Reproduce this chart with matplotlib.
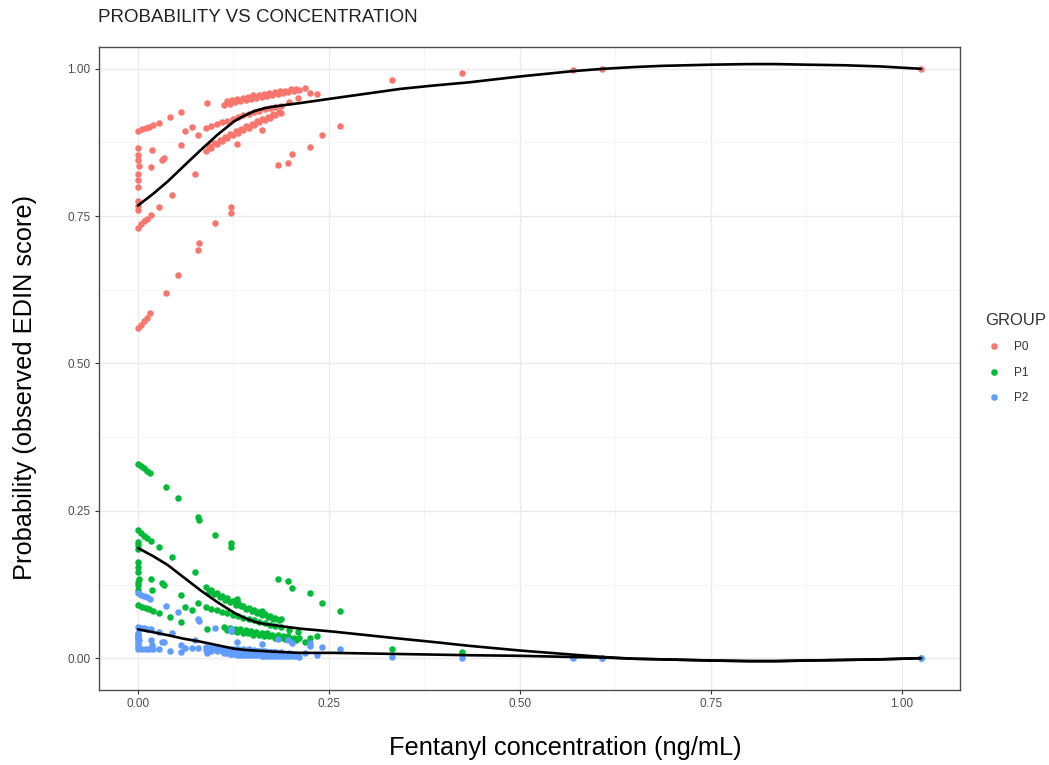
import matplotlib
matplotlib.use("Agg")
import matplotlib.pyplot as plt
from matplotlib.lines import Line2D
import numpy as np
import pandas as pd

plt.rcParams['font.family'] = ['Liberation Sans', 'DejaVu Sans']

# observations: fentanyl concentration and predicted probability of each EDIN group
conc = [
    # subject with lowest P0
    0.000, 0.004, 0.008, 0.012, 0.016, 0.037, 0.053, 0.078, 0.080, 0.101, 0.122, 0.122,
    # second subject
    0.000, 0.004, 0.008, 0.012, 0.017, 0.028, 0.044, 0.075,
    # column at zero
    0.000, 0.000, 0.000, 0.000, 0.000, 0.000, 0.000, 0.000, 0.000, 0.002,
    # upper short diagonal
    0.000, 0.005, 0.010, 0.015, 0.020, 0.027,
    # scattered
    0.018, 0.017, 0.031, 0.034, 0.056, 0.061, 0.071, 0.079, 0.042, 0.056, 0.090, 0.129, 0.162,
    # right scatter
    0.183, 0.196, 0.202, 0.225, 0.241, 0.265,
    0.218, 0.225, 0.235,
    # far points
    0.333, 0.424, 0.569, 0.608, 1.025,
    # band C
    0.089, 0.096, 0.103, 0.110, 0.117, 0.124, 0.131, 0.138, 0.145, 0.152, 0.159, 0.166, 0.173, 0.180, 0.187,
    # band B
    0.089, 0.096, 0.103, 0.110, 0.117, 0.124, 0.131, 0.138, 0.145, 0.152, 0.159, 0.166, 0.173, 0.180, 0.187, 0.198, 0.209,
    # band U
    0.113, 0.120, 0.127, 0.134, 0.141, 0.148, 0.155, 0.162, 0.169, 0.176, 0.183, 0.190, 0.197, 0.204, 0.211,
    # band C second row
    0.093, 0.100, 0.107, 0.114, 0.121, 0.128, 0.135, 0.142, 0.149, 0.156, 0.163, 0.170, 0.177, 0.184,
    # band U second row
    0.116, 0.123, 0.130, 0.137, 0.144, 0.151, 0.158, 0.165, 0.172, 0.179, 0.186, 0.193, 0.200, 0.207,
]

p0 = [
    0.560, 0.566, 0.572, 0.578, 0.585, 0.620, 0.650, 0.693, 0.705, 0.739, 0.756, 0.766,
    0.730, 0.736, 0.741, 0.746, 0.752, 0.766, 0.786, 0.822,
    0.760, 0.768, 0.776, 0.800, 0.812, 0.822, 0.845, 0.854, 0.866, 0.835,
    0.895, 0.898, 0.900, 0.902, 0.905, 0.908,
    0.862, 0.834, 0.846, 0.849, 0.870, 0.895, 0.902, 0.888, 0.918, 0.927, 0.942, 0.873, 0.896,
    0.837, 0.841, 0.856, 0.868, 0.887, 0.903,
    0.968, 0.959, 0.958,
    0.981, 0.993, 0.998, 0.999, 1.000,
    0.860, 0.866, 0.872, 0.877, 0.882, 0.887, 0.891, 0.896, 0.900, 0.905, 0.909, 0.913, 0.917, 0.921, 0.925,
    0.899, 0.903, 0.906, 0.909, 0.912, 0.915, 0.918, 0.921, 0.924, 0.926, 0.929, 0.931, 0.933, 0.935, 0.937, 0.944, 0.950,
    0.939, 0.941, 0.943, 0.945, 0.947, 0.949, 0.951, 0.953, 0.954, 0.956, 0.957, 0.959, 0.960, 0.962, 0.964,
    0.869, 0.874, 0.880, 0.885, 0.889, 0.894, 0.898, 0.903, 0.907, 0.911, 0.915, 0.919, 0.923, 0.927,
    0.945, 0.947, 0.949, 0.951, 0.953, 0.955, 0.956, 0.958, 0.959, 0.961, 0.962, 0.963, 0.965, 0.966,
]

p1 = [
    0.330, 0.326, 0.322, 0.318, 0.314, 0.291, 0.271, 0.240, 0.234, 0.209, 0.195, 0.188,
    0.217, 0.212, 0.208, 0.204, 0.199, 0.189, 0.172, 0.147,
    0.197, 0.192, 0.186, 0.164, 0.155, 0.147, 0.130, 0.124, 0.115, 0.135,
    0.090, 0.087, 0.085, 0.083, 0.080, 0.077,
    0.115, 0.135, 0.127, 0.124, 0.107, 0.087, 0.081, 0.094, 0.070, 0.062, 0.049, 0.100, 0.080,
    0.135, 0.131, 0.119, 0.110, 0.094, 0.080,
    0.028, 0.035, 0.037,
    0.016, 0.010, 0.002, 0.001, 0.000,
    0.121, 0.116, 0.111, 0.106, 0.102, 0.097, 0.093, 0.089, 0.085, 0.081, 0.078, 0.075, 0.072, 0.069, 0.066,
    0.087, 0.084, 0.081, 0.079, 0.076, 0.073, 0.071, 0.068, 0.066, 0.064, 0.061, 0.059, 0.057, 0.055, 0.053, 0.048, 0.044,
    0.053, 0.052, 0.050, 0.049, 0.047, 0.046, 0.044, 0.043, 0.042, 0.040, 0.039, 0.038, 0.037, 0.035, 0.034,
    0.113, 0.109, 0.104, 0.099, 0.096, 0.091, 0.088, 0.083, 0.080, 0.076, 0.073, 0.070, 0.067, 0.064,
    0.047, 0.046, 0.045, 0.043, 0.042, 0.040, 0.039, 0.038, 0.037, 0.035, 0.034, 0.033, 0.032, 0.031,
]

p2 = [
    0.110, 0.108, 0.106, 0.104, 0.101, 0.089, 0.079, 0.067, 0.063, 0.052, 0.049, 0.046,
    0.053, 0.052, 0.051, 0.050, 0.049, 0.045, 0.042, 0.031,
    0.043, 0.040, 0.038, 0.036, 0.033, 0.031, 0.025, 0.022, 0.019, 0.030,
    0.015, 0.015, 0.015, 0.015, 0.015, 0.015,
    0.023, 0.031, 0.027, 0.027, 0.023, 0.018, 0.017, 0.018, 0.012, 0.011, 0.009, 0.027, 0.024,
    0.032, 0.031, 0.026, 0.020, 0.019, 0.016,
    0.008, 0.025, 0.005,
    0.002, 0.001, 0.000, 0.000, 0.000,
    0.019, 0.018, 0.017, 0.017, 0.016, 0.016, 0.016, 0.015, 0.015, 0.014, 0.013, 0.012, 0.011, 0.010, 0.009,
    0.014, 0.013, 0.013, 0.012, 0.012, 0.012, 0.011, 0.011, 0.010, 0.010, 0.010, 0.010, 0.010, 0.010, 0.010, 0.008, 0.006,
    0.008, 0.007, 0.007, 0.006, 0.006, 0.005, 0.005, 0.004, 0.004, 0.004, 0.004, 0.003, 0.003, 0.003, 0.002,
    0.018, 0.017, 0.016, 0.016, 0.015, 0.015, 0.014, 0.014, 0.013, 0.013, 0.012, 0.011, 0.010, 0.009,
    0.008, 0.007, 0.006, 0.006, 0.005, 0.005, 0.005, 0.004, 0.004, 0.004, 0.004, 0.004, 0.003, 0.003,
]

# smoothed trend lines
smooth_x = [0.000, 0.020, 0.039, 0.060, 0.082, 0.104, 0.126, 0.140, 0.152, 0.165, 0.178, 0.195,
            0.213, 0.256, 0.300, 0.344, 0.390, 0.433, 0.500, 0.569, 0.609, 0.650, 0.686,
            0.750, 0.800, 0.835, 0.875, 0.925, 0.972, 1.025]
smooth_p0 = [0.768, 0.788, 0.809, 0.835, 0.862, 0.888, 0.911, 0.921, 0.928, 0.933, 0.936, 0.939,
             0.942, 0.950, 0.958, 0.966, 0.972, 0.977, 0.987, 0.996, 1.000, 1.003, 1.005,
             1.007, 1.008, 1.008, 1.007, 1.006, 1.004, 1.000]
smooth_p1 = [0.187, 0.173, 0.158, 0.137, 0.115, 0.095, 0.077, 0.068, 0.062, 0.058, 0.056, 0.053,
             0.050, 0.045, 0.039, 0.033, 0.027, 0.021, 0.013, 0.006, 0.002, -0.001, -0.002,
             -0.004, -0.005, -0.005, -0.004, -0.003, -0.002, 0.000]
smooth_p2 = [0.049, 0.044, 0.039, 0.033, 0.028, 0.022, 0.016, 0.014, 0.013, 0.012, 0.011, 0.010,
             0.009, 0.009, 0.008, 0.007, 0.006, 0.005, 0.004, 0.002, 0.001, -0.001, -0.002,
             -0.004, -0.005, -0.005, -0.004, -0.003, -0.002, 0.000]

groups = ["P0", "P1", "P2"]
colors = {"P0": "#F8766D", "P1": "#00BA38", "P2": "#619CFF"}

df = pd.DataFrame({"conc": conc, "P0": p0, "P1": p1, "P2": p2})
long_df = df.melt(id_vars="conc", var_name="GROUP", value_name="prob")

fig = plt.figure(figsize=(10.49, 7.65), dpi=100)
ax = fig.add_axes([99 / 1049, 1 - 690 / 765, (960 - 99) / 1049, (690 - 47) / 765])

for g in groups:
    sub = long_df[long_df["GROUP"] == g]
    ax.scatter(sub["conc"], sub["prob"], s=22, color=colors[g], linewidths=0, zorder=3)

for sy in [smooth_p0, smooth_p1, smooth_p2]:
    ax.plot(smooth_x, sy, color="black", lw=1.9, zorder=4, solid_capstyle="round",
            solid_joinstyle="round")

ax.set_xlim(-0.051, 1.076)
ax.set_ylim(-0.054, 1.037)
ticks = [0.0, 0.25, 0.5, 0.75, 1.0]
ax.set_xticks(ticks)
ax.set_yticks(ticks)
ax.set_xticklabels(["0.00", "0.25", "0.50", "0.75", "1.00"])
ax.set_yticklabels(["0.00", "0.25", "0.50", "0.75", "1.00"])
ax.set_xticks([0.125, 0.375, 0.625, 0.875], minor=True)
ax.set_yticks([0.125, 0.375, 0.625, 0.875], minor=True)
ax.grid(which="major", color="#EBEBEB", lw=1.0, zorder=0)
ax.grid(which="minor", color="#F4F4F4", lw=0.6, zorder=0)
ax.set_axisbelow(True)
ax.tick_params(which="major", length=3, width=0.8, color="#333333", labelsize=8.5,
               labelcolor="#4D4D4D", pad=3)
ax.tick_params(which="minor", length=0)
for sp in ax.spines.values():
    sp.set_color("#4D4D4D")
    sp.set_linewidth(1.0)

fig.text(98 / 1049, 1 - 17 / 765, "PROBABILITY VS CONCENTRATION", fontsize=13.5,
         ha="left", va="center", color="#222222")
fig.text(25 / 1049, 1 - 387 / 765, "Probability (observed EDIN score)", fontsize=18.3,
         rotation=90, ha="center", va="center")
fig.text(565 / 1049, 1 - 748 / 765, "Fentanyl concentration (ng/mL)", fontsize=18.3,
         ha="center", va="center")

handles = [Line2D([], [], marker="o", linestyle="", markersize=4.8, markeredgewidth=0,
                  color=colors[g]) for g in groups]
leg = fig.legend(handles, groups, title="GROUP", loc="upper left",
                 bbox_to_anchor=(977 / 1049, 1 - 305 / 765), frameon=False,
                 fontsize=8.5, title_fontsize=12, handletextpad=0.9, labelspacing=1.12,
                 handlelength=1.5, borderaxespad=0.3)
leg._legend_box.align = "left"
for t in leg.get_texts():
    t.set_color("#333333")
leg.get_title().set_color("#333333")

fig.savefig("out.png", dpi=100)
